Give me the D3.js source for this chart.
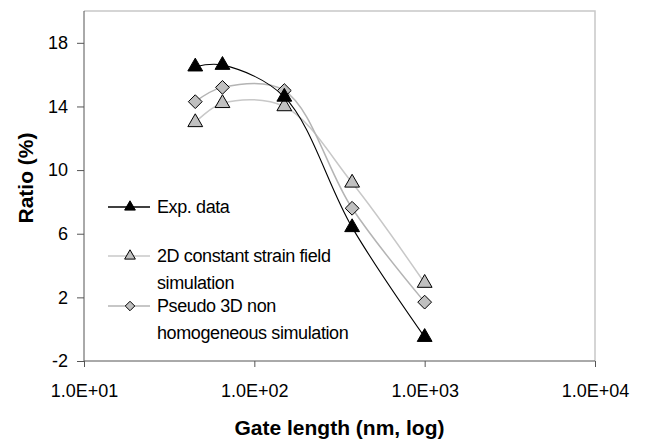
<!DOCTYPE html>
<html>
<head>
<meta charset="utf-8">
<script src="https://cdn.jsdelivr.net/npm/d3@7"></script>
<style>
  body { margin: 0; background: #fff; }
  svg { display: block; font-family: "Liberation Sans", Arial, sans-serif; }
</style>
</head>
<body>
<script>
// gate length (nm) and ratio (%)
const gateLength = [45, 65, 150, 375, 1000];
const expData = [16.5, 16.6, 14.6, 6.4, -0.5];
const sim2D = [13.0, 14.2, 14.0, 9.2, 2.9];
const pseudo3D = [14.3, 15.2, 15.0, 7.6, 1.7];
const xTicks = [10, 100, 1000, 10000];
const yTicks = [-2, 2, 6, 10, 14, 18];

const w = 648, h = 439;
const pL = 84, pR = 595, pT = 11, pB = 361;

const svg = d3.select('body').append('svg')
  .attr('width', w)
  .attr('height', h)

const x = d3.scaleLog().domain([10, 10000]).range([pL, pR])
const y = d3.scaleLinear().domain([-2, 20]).range([pB, pT])

// light frame on top / right
svg.append('path')
  .attr('d', `M${pL},${pT}H${pR}V${pB}`)
  .attr('fill', 'none')
  .attr('stroke', '#c8c8c8')
  .attr('stroke-width', 1.5)

const xAxis = d3.axisBottom(x)
  .tickValues(xTicks)
  .tickFormat(d => '1.0E+' + String(Math.round(Math.log10(d))).padStart(2, '0'))
  .tickSize(6)
  .tickPadding(17)
const gx = svg.append('g')
  .attr('transform', `translate(0,${pB})`)
  .call(xAxis)
gx.select('.domain').attr('stroke', '#555').attr('d', `M${pL},0H${pR}`)
gx.selectAll('.tick line').attr('stroke', '#555')
gx.selectAll('.tick text').attr('font-size', 18).attr('fill', '#000')

const yAxis = d3.axisLeft(y)
  .tickValues(yTicks)
  .tickFormat(d => String(d))
  .tickSize(7)
  .tickPadding(9)
const gy = svg.append('g')
  .attr('transform', `translate(${pL},0)`)
  .call(yAxis)
gy.select('.domain').attr('stroke', '#555').attr('d', `M0,${pT}V${pB}`)
gy.selectAll('.tick line').attr('stroke', '#555')
gy.selectAll('.tick text').attr('font-size', 18).attr('fill', '#000')

svg.append('text')
  .attr('x', (pL + pR) / 2)
  .attr('y', 435)
  .attr('text-anchor', 'middle')
  .attr('font-size', 21)
  .attr('font-weight', 'bold')
  .text('Gate length (nm, log)')

svg.append('text')
  .attr('transform', 'translate(33,178) rotate(-90)')
  .attr('text-anchor', 'middle')
  .attr('font-size', 21)
  .attr('font-weight', 'bold')
  .text('Ratio (%)')

const diamond = {
  draw(ctx, size) {
    const r = Math.sqrt(size / 2);
    ctx.moveTo(0, -r); ctx.lineTo(r, 0); ctx.lineTo(0, r); ctx.lineTo(-r, 0); ctx.closePath();
  }
};

const series = [
  { name: ['2D constant strain field', 'simulation'], values: sim2D, line: '#c8c8c8', fill: '#c0c0c0', shape: d3.symbolTriangle },
  { name: ['Pseudo 3D non', 'homogeneous simulation'], values: pseudo3D, line: '#b4b4b4', fill: '#c0c0c0', shape: diamond },
  { name: ['Exp. data'], values: expData, line: '#000', fill: '#000', shape: d3.symbolTriangle }
];

const line = d3.line()
  .x((d, i) => x(gateLength[i]))
  .y(d => y(d))
  .curve(d3.curveCatmullRom.alpha(0.5))

series.forEach(s => {
  svg.append('path')
    .datum(s.values)
    .attr('d', line)
    .attr('fill', 'none')
    .attr('stroke', s.line)
    .attr('stroke-width', s.fill === '#000' ? 1.1 : 1.5)
})

series.forEach(s => {
  svg.append('g')
    .selectAll('path')
    .data(s.values)
    .enter()
    .append('path')
    .attr('transform', (d, i) => `translate(${x(gateLength[i])},${y(d)})`)
    .attr('d', d3.symbol().type(s.shape).size(95))
    .attr('fill', s.fill)
    .attr('stroke', '#000')
    .attr('stroke-width', 1)
})

// legend
const legendRows = [
  { s: series[2], y: 207 },
  { s: series[0], y: 256 },
  { s: series[1], y: 306 }
];
const legend = svg.append('g').attr('id', 'legend')
legendRows.forEach(r => {
  legend.append('line')
    .attr('x1', 108).attr('x2', 150)
    .attr('y1', r.y).attr('y2', r.y)
    .attr('stroke', r.s.line)
    .attr('stroke-width', 1.3)
  legend.append('path')
    .attr('transform', `translate(130,${r.y})`)
    .attr('d', d3.symbol().type(r.s.shape).size(r.s.shape === diamond ? 45 : 50))
    .attr('fill', r.s.fill)
    .attr('stroke', '#000')
  r.s.name.forEach((t, k) => {
    legend.append('text')
      .attr('x', 157)
      .attr('y', r.y + 6 + k * 27)
      .attr('font-size', 18)
      .attr('letter-spacing', -0.4)
      .text(t)
  })
})
</script>
</body>
</html>
